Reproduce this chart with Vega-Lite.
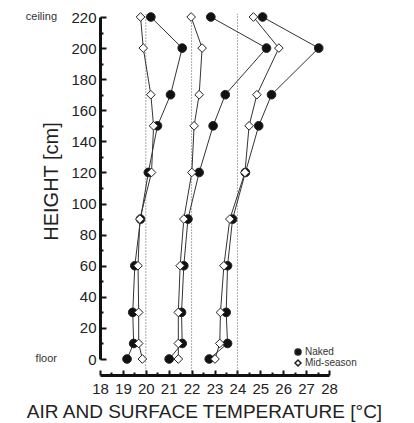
{
  "$schema": "https://vega.github.io/schema/vega-lite/v6.json",
  "width": 229,
  "height": 342,
  "autosize": {"type": "none"},
  "padding": {"left": 100, "top": 17, "right": 85, "bottom": 64},
  "background": "white",
  "config": {
    "view": {"stroke": null},
    "font": "Liberation Sans",
    "axis": {
      "domainColor": "#111",
      "domainWidth": 3,
      "tickColor": "#111",
      "tickWidth": 2,
      "grid": false,
      "labelFont": "Liberation Sans",
      "labelFontSize": 15,
      "labelColor": "#222",
      "titleFont": "Liberation Sans",
      "titleFontWeight": "normal",
      "titleColor": "#222"
    }
  },
  "datasets": {
    "profiles": [
      {"g": "20", "s": "Naked", "h": 0, "t": 19.18},
      {"g": "20", "s": "Naked", "h": 10, "t": 19.47},
      {"g": "20", "s": "Naked", "h": 30, "t": 19.43},
      {"g": "20", "s": "Naked", "h": 60, "t": 19.52},
      {"g": "20", "s": "Naked", "h": 90, "t": 19.77},
      {"g": "20", "s": "Naked", "h": 120, "t": 20.11},
      {"g": "20", "s": "Naked", "h": 150, "t": 20.51},
      {"g": "20", "s": "Naked", "h": 170, "t": 21.08},
      {"g": "20", "s": "Naked", "h": 200, "t": 21.59},
      {"g": "20", "s": "Naked", "h": 220, "t": 20.22},
      {"g": "20", "s": "Mid-season", "h": 0, "t": 19.85},
      {"g": "20", "s": "Mid-season", "h": 10, "t": 19.69},
      {"g": "20", "s": "Mid-season", "h": 30, "t": 19.69},
      {"g": "20", "s": "Mid-season", "h": 60, "t": 19.66},
      {"g": "20", "s": "Mid-season", "h": 90, "t": 19.74},
      {"g": "20", "s": "Mid-season", "h": 120, "t": 20.25},
      {"g": "20", "s": "Mid-season", "h": 150, "t": 20.34},
      {"g": "20", "s": "Mid-season", "h": 170, "t": 20.22},
      {"g": "20", "s": "Mid-season", "h": 200, "t": 19.89},
      {"g": "20", "s": "Mid-season", "h": 220, "t": 19.77},
      {"g": "22", "s": "Naked", "h": 0, "t": 21.02},
      {"g": "22", "s": "Naked", "h": 10, "t": 21.59},
      {"g": "22", "s": "Naked", "h": 30, "t": 21.56},
      {"g": "22", "s": "Naked", "h": 60, "t": 21.66},
      {"g": "22", "s": "Naked", "h": 90, "t": 21.84},
      {"g": "22", "s": "Naked", "h": 120, "t": 22.33},
      {"g": "22", "s": "Naked", "h": 150, "t": 22.94},
      {"g": "22", "s": "Naked", "h": 170, "t": 23.47},
      {"g": "22", "s": "Naked", "h": 200, "t": 25.27},
      {"g": "22", "s": "Naked", "h": 220, "t": 22.84},
      {"g": "22", "s": "Mid-season", "h": 0, "t": 21.42},
      {"g": "22", "s": "Mid-season", "h": 10, "t": 21.42},
      {"g": "22", "s": "Mid-season", "h": 30, "t": 21.42},
      {"g": "22", "s": "Mid-season", "h": 60, "t": 21.5},
      {"g": "22", "s": "Mid-season", "h": 90, "t": 21.66},
      {"g": "22", "s": "Mid-season", "h": 120, "t": 22.01},
      {"g": "22", "s": "Mid-season", "h": 150, "t": 22.11},
      {"g": "22", "s": "Mid-season", "h": 170, "t": 22.33},
      {"g": "22", "s": "Mid-season", "h": 200, "t": 22.46},
      {"g": "22", "s": "Mid-season", "h": 220, "t": 21.98},
      {"g": "24", "s": "Naked", "h": 0, "t": 22.77},
      {"g": "24", "s": "Naked", "h": 10, "t": 23.57},
      {"g": "24", "s": "Naked", "h": 30, "t": 23.51},
      {"g": "24", "s": "Naked", "h": 60, "t": 23.57},
      {"g": "24", "s": "Naked", "h": 90, "t": 23.79},
      {"g": "24", "s": "Naked", "h": 120, "t": 24.35},
      {"g": "24", "s": "Naked", "h": 150, "t": 24.93},
      {"g": "24", "s": "Naked", "h": 170, "t": 25.49},
      {"g": "24", "s": "Naked", "h": 200, "t": 27.55},
      {"g": "24", "s": "Naked", "h": 220, "t": 25.1},
      {"g": "24", "s": "Mid-season", "h": 0, "t": 23.02},
      {"g": "24", "s": "Mid-season", "h": 10, "t": 23.23},
      {"g": "24", "s": "Mid-season", "h": 30, "t": 23.26},
      {"g": "24", "s": "Mid-season", "h": 60, "t": 23.41},
      {"g": "24", "s": "Mid-season", "h": 90, "t": 23.67},
      {"g": "24", "s": "Mid-season", "h": 120, "t": 24.33},
      {"g": "24", "s": "Mid-season", "h": 150, "t": 24.51},
      {"g": "24", "s": "Mid-season", "h": 170, "t": 24.85},
      {"g": "24", "s": "Mid-season", "h": 200, "t": 25.81},
      {"g": "24", "s": "Mid-season", "h": 220, "t": 24.7}
    ],
    "refs": [{"t": 20}, {"t": 22}, {"t": 24}],
    "ends": [{"lab": "ceiling", "h": 220}, {"lab": "floor", "h": 0}]
  },
  "layer": [
    {
      "data": {"name": "refs"},
      "mark": {"type": "rule", "color": "#555", "strokeWidth": 1, "strokeDash": [1, 2]},
      "encoding": {
        "x": {
          "field": "t",
          "type": "quantitative",
          "scale": {"domain": [18, 28], "nice": false, "zero": false},
          "axis": {
            "values": [18, 18.5, 19, 19.5, 20, 20.5, 21, 21.5, 22, 22.5, 23, 23.5, 24, 24.5, 25, 25.5, 26, 26.5, 27, 27.5, 28],
            "tickCount": 100,
            "labelExpr": "datum.value % 1 === 0 ? '' + datum.value : ''",
            "tickSize": {"condition": {"test": "datum.value % 1 === 0", "value": -5}, "value": -3},
            "offset": 16,
            "labelPadding": 11,
            "labelFlush": false,
            "labelOverlap": false,
            "title": "AIR AND SURFACE TEMPERATURE [°C]",
            "titleFontSize": 19,
            "titleBaseline": "alphabetic",
            "titleX": 104,
            "titleY": 42
          }
        },
        "y": {
          "datum": -10,
          "type": "quantitative",
          "scale": {"domain": [0, 220], "nice": false},
          "axis": {
            "values": [0, 10, 20, 30, 40, 50, 60, 70, 80, 90, 100, 110, 120, 130, 140, 150, 160, 170, 180, 190, 200, 210, 220],
            "tickCount": 100,
            "labelExpr": "datum.value % 20 === 0 ? '' + datum.value : ''",
            "tickSize": {"condition": {"test": "datum.value % 20 === 0", "value": -6}, "value": -3},
            "labelPadding": 10,
            "labelFlush": false,
            "labelOverlap": false,
            "title": "HEIGHT [cm]",
            "titleFontSize": 20,
            "titleAngle": -90,
            "titleBaseline": "alphabetic",
            "titleX": -43,
            "titleY": 164
          }
        },
        "y2": {"datum": 222}
      }
    },
    {
      "data": {"name": "profiles"},
      "mark": {"type": "line", "color": "#333", "strokeWidth": 1},
      "encoding": {
        "x": {"field": "t", "type": "quantitative"},
        "y": {"field": "h", "type": "quantitative"},
        "detail": [{"field": "g"}, {"field": "s"}],
        "order": {"field": "h", "type": "quantitative"}
      }
    },
    {
      "data": {"name": "profiles"},
      "mark": {"type": "point", "filled": true, "opacity": 1, "strokeWidth": 1, "size": 75},
      "encoding": {
        "x": {"field": "t", "type": "quantitative"},
        "y": {"field": "h", "type": "quantitative"},
        "shape": {
          "field": "s",
          "type": "nominal",
          "scale": {"domain": ["Naked", "Mid-season"], "range": ["circle", "diamond"]},
          "legend": {
            "orient": "none",
            "legendX": 193,
            "legendY": 330,
            "title": null,
            "labelFontSize": 10,
            "labelColor": "#333",
            "symbolSize": 36,
            "rowPadding": -3,
            "labelOffset": 2
          }
        },
        "fill": {
          "field": "s",
          "type": "nominal",
          "scale": {"domain": ["Naked", "Mid-season"], "range": ["#111", "white"]},
          "legend": {
            "orient": "none",
            "legendX": 193,
            "legendY": 330,
            "title": null,
            "labelFontSize": 10,
            "labelColor": "#333",
            "symbolSize": 36,
            "rowPadding": -3,
            "labelOffset": 2
          }
        },
        "stroke": {
          "field": "s",
          "type": "nominal",
          "scale": {"domain": ["Naked", "Mid-season"], "range": ["#222", "#222"]},
          "legend": {
            "orient": "none",
            "legendX": 193,
            "legendY": 330,
            "title": null,
            "labelFontSize": 10,
            "labelColor": "#333",
            "symbolSize": 36,
            "rowPadding": -3,
            "labelOffset": 2
          }
        }
      }
    },
    {
      "data": {"name": "ends"},
      "mark": {"type": "text", "align": "right", "baseline": "middle", "fontSize": 11, "color": "#333", "dx": -43},
      "encoding": {
        "x": {"datum": 18, "type": "quantitative"},
        "y": {"field": "h", "type": "quantitative"},
        "text": {"field": "lab"}
      }
    }
  ]
}
